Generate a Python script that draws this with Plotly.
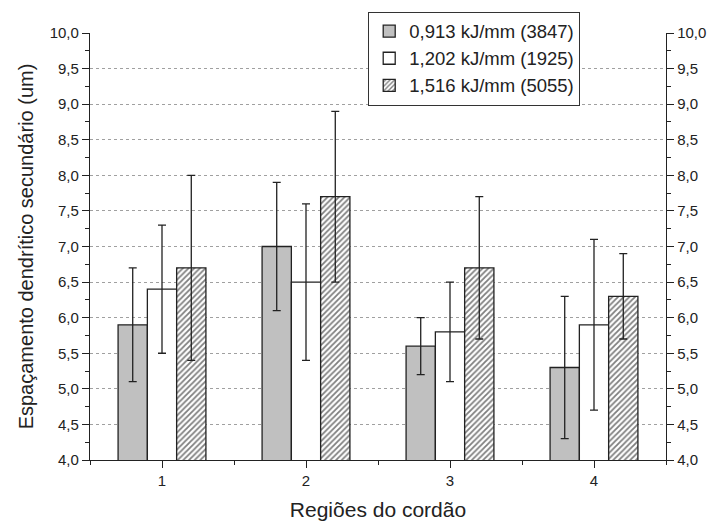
import plotly.graph_objects as go

regions = [1, 2, 3, 4]
series_names = ["0,913 kJ/mm (3847)", "1,202 kJ/mm (1925)", "1,516 kJ/mm (5055)"]
vals_913 = [5.9, 7.0, 5.6, 5.3]
err_913 = [0.8, 0.9, 0.4, 1.0]
vals_1202 = [6.4, 6.5, 5.8, 5.9]
err_1202 = [0.9, 1.1, 0.7, 1.2]
vals_1516 = [6.7, 7.7, 6.7, 6.3]
err_1516 = [1.3, 1.2, 1.0, 0.6]
y_ticks = [4.0, 4.5, 5.0, 5.5, 6.0, 6.5, 7.0, 7.5, 8.0, 8.5, 9.0, 9.5, 10.0]
grid_vals = [4.5, 5.0, 5.5, 6.0, 6.5, 7.0, 7.5, 8.0, 8.5, 9.0, 9.5]

FONT = "Liberation Sans, Arial, sans-serif"
LINE = "#222222"

err_style = dict(type="data", color=LINE, thickness=1.3, width=4, visible=True)
outline = dict(color=LINE, width=1.3)

fig = go.Figure()
fig.add_trace(go.Bar(
    x=regions, y=vals_913, name=series_names[0],
    marker=dict(color="#c0c0c0", line=outline),
    error_y=dict(array=err_913, **err_style),
))
fig.add_trace(go.Bar(
    x=regions, y=vals_1202, name=series_names[1],
    marker=dict(color="white", line=outline),
    error_y=dict(array=err_1202, **err_style),
))
fig.add_trace(go.Bar(
    x=regions, y=vals_1516, name=series_names[2],
    marker=dict(color="white", line=outline,
                pattern=dict(shape="/", fgcolor="#000000", bgcolor="white",
                             size=4, solidity=0.45)),
    error_y=dict(array=err_1516, **err_style),
))
# helper traces so the extra y axes are drawn
fig.add_trace(go.Scatter(x=[None], y=[None], yaxis="y2", showlegend=False, hoverinfo="skip"))
fig.add_trace(go.Scatter(x=[None], y=[None], yaxis="y3", showlegend=False, hoverinfo="skip"))

tick_font = dict(family=FONT, size=15, color="#222222")
common_y = dict(
    range=[4, 10], tickvals=y_ticks, tickformat=".1f",
    ticks="outside", ticklen=7, tickwidth=1.2, tickcolor=LINE,
    showline=True, linecolor=LINE, linewidth=1.3,
    showgrid=False, zeroline=False, tickfont=tick_font, automargin=False,
    minor=dict(ticks="outside", dtick=0.25, tick0=4, ticklen=4, tickcolor=LINE, tickwidth=1.2, showgrid=False),
)

fig.update_layout(
    width=715, height=524,
    margin=dict(l=90, r=49, t=33, b=64),
    paper_bgcolor="white", plot_bgcolor="white",
    separators=",.",
    barmode="group", bargap=0.39, bargroupgap=0,
    font=dict(family=FONT, color="#222222"),
    showlegend=True,
    legend=dict(
        x=0.483, y=1.05, xanchor="left", yanchor="top",
        bgcolor="white", bordercolor="#333333", borderwidth=1,
        font=dict(family=FONT, size=18.5, color="#222222"),
        tracegroupgap=0, itemwidth=30,
    ),
    xaxis=dict(
        range=[0.5, 4.5], tickvals=regions, ticktext=[str(r) for r in regions],
        ticks="outside", ticklen=7, tickwidth=1.2, tickcolor=LINE,
        showline=True, linecolor=LINE, linewidth=1.3, automargin=False,
        showgrid=False, zeroline=False, tickfont=tick_font,
        minor=dict(ticks="outside", tick0=0.5, dtick=1, ticklen=4, tickcolor=LINE, tickwidth=1.2, showgrid=False),
        title=dict(text="Regiões do cordão", font=dict(family=FONT, size=21, color="#222222"), standoff=14),
    ),
    yaxis=dict(
        side="left",
        title=dict(text="Espaçamento dendrítico secundário (um)", font=dict(family=FONT, size=20, color="#222222"), standoff=10),
        **common_y,
    ),
    yaxis2=dict(overlaying="y", side="right", anchor="x", **common_y),
    yaxis3=dict(
        overlaying="y", side="left", anchor="x", range=[4, 10],
        tickvals=grid_vals, showticklabels=False, ticks="",
        showline=False, zeroline=False,
        showgrid=True, gridcolor="#a0a0a0", gridwidth=1, griddash="dot",
    ),
)

fig.write_html("out.html")
